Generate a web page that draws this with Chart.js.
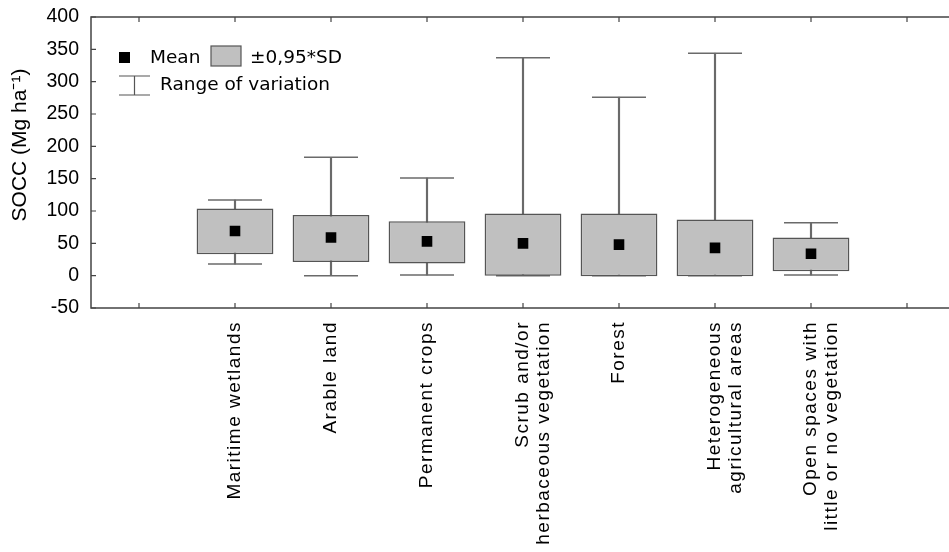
<!DOCTYPE html>
<html>
<head>
<meta charset="utf-8">
<script src="https://cdn.jsdelivr.net/npm/chart.js@4"></script>
<style>
  body { margin: 0; background: #fff; }
  #wrap { width: 949px; height: 552px; overflow: hidden; }
</style>
</head>
<body>
<div id="wrap"><canvas id="myChart" width="975" height="552"></canvas></div>
<script>
// land cover classes (empty slot at each end, like the original axis)
var categories = [
  "Maritime wetlands",
  "Arable land",
  "Permanent crops",
  ["Scrub and/or", "herbaceous vegetation"],
  "Forest",
  ["Heterogeneous", "agricultural areas"],
  ["Open spaces with", "little or no vegetation"]
];
var meanValues = [69, 59, 53, 50, 48, 43, 34];
var sdLow      = [33, 21, 19, 0, -1, -1, 7];
var sdHigh     = [104, 94, 84, 96, 96, 87, 59];
var rangeMin   = [18, 0, 1, 0, 0, 0, 1];
var rangeMax   = [117, 183, 151, 337, 276, 344, 82];
var yTicks     = [-50, 0, 50, 100, 150, 200, 250, 300, 350, 400];

function pad(arr) {
  return [null].concat(arr).concat([null]);
}

var labels = pad(categories);
labels[0] = "";
labels[labels.length - 1] = "";

var boxes = pad(sdLow.map(function(lo, i) { return [lo, sdHigh[i]]; }));
var whiskers = pad(rangeMin.map(function(lo, i) { return [lo, rangeMax[i]]; }));

var lineCol = "#555";

// x tick labels get a bit of letter spacing (they draw after the datasets)
var spacingPlugin = {
  id: "spacing",
  afterDatasetsDraw: function(chart) {
    chart.ctx.letterSpacing = "1.5px";
  },
  afterDraw: function(chart) {
    chart.ctx.letterSpacing = "0px";
  }
};

// frame (left, top, bottom; the right side is off the picture) and inward ticks
var framePlugin = {
  id: "frame",
  afterDraw: function(chart) {
    var ctx = chart.ctx;
    var a = chart.chartArea;
    var xs = chart.scales.x;
    var ys = chart.scales.y;
    var right = chart.width;
    ctx.save();
    ctx.strokeStyle = "#444";
    ctx.lineWidth = 1.5;
    ctx.beginPath();
    ctx.moveTo(right, a.top);
    ctx.lineTo(a.left, a.top);
    ctx.lineTo(a.left, a.bottom);
    ctx.lineTo(right, a.bottom);
    ctx.stroke();
    ctx.lineWidth = 1.2;
    ctx.beginPath();
    for (var i = 0; i < xs.ticks.length; i++) {
      var x = xs.getPixelForTick(i);
      ctx.moveTo(x, a.bottom);
      ctx.lineTo(x, a.bottom - 5);
      ctx.moveTo(x, a.top);
      ctx.lineTo(x, a.top + 5);
    }
    for (var j = 0; j < ys.ticks.length; j++) {
      var y = ys.getPixelForTick(j);
      ctx.moveTo(a.left, y);
      ctx.lineTo(a.left + 5, y);
    }
    ctx.stroke();
    ctx.restore();
  }
};

// legend in the top left corner of the plot
var legendPlugin = {
  id: "boxLegend",
  afterDraw: function(chart) {
    var ctx = chart.ctx;
    var a = chart.chartArea;
    var x0 = a.left + 28;
    var y0 = a.top + 40;
    ctx.save();
    ctx.font = "18.5px 'DejaVu Sans'";
    ctx.textBaseline = "middle";
    ctx.fillStyle = "#000";
    // mean
    ctx.fillRect(x0, y0 - 5, 11, 11);
    ctx.fillText("Mean", x0 + 31, y0 + 1);
    // sd box
    ctx.fillStyle = "#c0c0c0";
    ctx.fillRect(x0 + 92, y0 - 11, 30, 20);
    ctx.strokeStyle = lineCol;
    ctx.lineWidth = 1.2;
    ctx.strokeRect(x0 + 92, y0 - 11, 30, 20);
    ctx.fillStyle = "#000";
    ctx.fillText("\u00b10,95*SD", x0 + 131, y0 + 1);
    // range
    var y1 = y0 + 19;
    ctx.beginPath();
    ctx.moveTo(x0, y1);
    ctx.lineTo(x0 + 31, y1);
    ctx.moveTo(x0 + 15.5, y1);
    ctx.lineTo(x0 + 15.5, y1 + 19);
    ctx.moveTo(x0, y1 + 19);
    ctx.lineTo(x0 + 31, y1 + 19);
    ctx.stroke();
    ctx.fillText("Range of variation", x0 + 41, y1 + 9);
    ctx.restore();
  }
};

var ctx = document.getElementById("myChart");

var chart = new Chart(ctx, {
  type: "bar",
  data: {
    labels: labels,
    datasets: [
      {
        label: "Mean",
        type: "line",
        data: pad(meanValues),
        showLine: false,
        pointStyle: "rect",
        pointRadius: 7.5,
        pointBackgroundColor: "#000",
        pointBorderWidth: 0,
        order: 1
      },
      {
        label: "\u00b10,95*SD",
        data: boxes,
        grouped: false,
        backgroundColor: "#c0c0c0",
        borderColor: lineCol,
        borderWidth: 1.5,
        borderSkipped: false,
        categoryPercentage: 1,
        barPercentage: 0.8,
        order: 2
      },
      {
        label: "Range",
        data: whiskers,
        grouped: false,
        backgroundColor: "#6a6a6a",
        barThickness: 1.5,
        order: 4
      },
      {
        label: "Max",
        type: "line",
        data: pad(rangeMax),
        showLine: false,
        pointStyle: "line",
        pointRadius: 27,
        pointBorderColor: "#6a6a6a",
        pointBorderWidth: 1.5,
        order: 3
      },
      {
        label: "Min",
        type: "line",
        data: pad(rangeMin),
        showLine: false,
        pointStyle: "line",
        pointRadius: 27,
        pointBorderColor: "#6a6a6a",
        pointBorderWidth: 1.5,
        order: 3
      }
    ]
  },
  options: {
    responsive: false,
    animation: false,
    layout: { autoPadding: false, padding: { top: 17, right: 20, left: 0, bottom: 0 } },
    plugins: {
      legend: { display: false },
      tooltip: { enabled: false }
    },
    scales: {
      x: {
        offset: true,
        grid: { display: false, drawTicks: false },
        border: { display: false },
        ticks: {
          z: 1,
          autoSkip: false,
          minRotation: 90,
          maxRotation: 90,
          padding: 13,
          color: "#000",
          font: { family: "'Liberation Sans', Arial, sans-serif", size: 19, lineHeight: 1.1 }
        },
        afterFit: function(scale) {
          scale.height = 244;
          scale.paddingLeft = 0;
          scale.paddingRight = 0;
        }
      },
      y: {
        min: -50,
        max: 400,
        afterBuildTicks: function(scale) {
          scale.ticks = yTicks.map(function(v) { return { value: v }; });
        },
        grid: { display: false, drawTicks: false },
        border: { display: false },
        ticks: {
          padding: 12,
          color: "#000",
          font: { family: "'Liberation Sans', Arial, sans-serif", size: 19.5 }
        },
        title: {
          display: true,
          // leading spaces lift the title a little, as in the original
          text: "      SOCC (Mg ha\u207b\u00b9)",
          color: "#000",
          padding: { top: 8, bottom: 0 },
          font: { family: "'Liberation Sans', Arial, sans-serif", size: 21 }
        },
        afterFit: function(scale) {
          scale.width = 91;
          scale.paddingTop = 0;
          scale.paddingBottom = 0;
        }
      }
    }
  },
  plugins: [spacingPlugin, framePlugin, legendPlugin]
});
</script>
</body>
</html>
